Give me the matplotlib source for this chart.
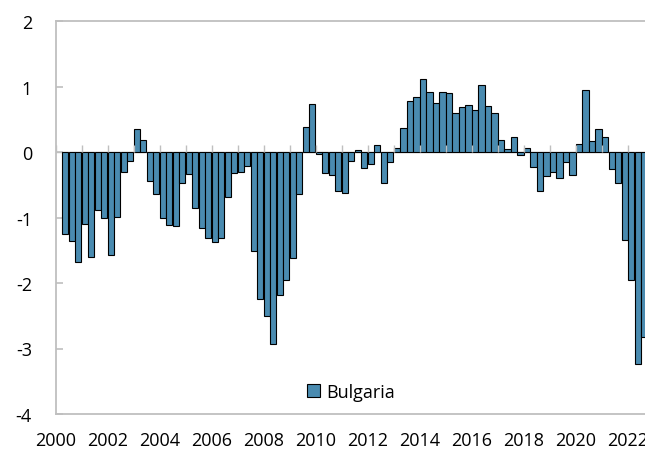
import numpy as np
import matplotlib
matplotlib.use("Agg")
import matplotlib.pyplot as plt

plt.rcParams['font.family'] = ['Open Sans', 'DejaVu Sans']

# quarterly values, 2000Q2 .. 2022Q3
START_YEAR = 2000
START_Q = 2
values = [
    -1.25, -1.36, -1.68,                 # 2000 Q2-Q4
    -1.10, -1.61, -0.89, -1.00,          # 2001
    -1.57, -0.99, -0.30, -0.13,          # 2002
    0.35, 0.18, -0.44, -0.64,            # 2003
    -1.01, -1.12, -1.13, -0.47,          # 2004
    -0.34, -0.85, -1.16, -1.32,          # 2005
    -1.37, -1.31, -0.69, -0.32,          # 2006
    -0.31, -0.21, -1.51, -2.25,          # 2007
    -2.50, -2.93, -2.19, -1.96,          # 2008
    -1.62, -0.64, 0.38, 0.73,            # 2009
    -0.03, -0.32, -0.35, -0.59,          # 2010
    -0.62, -0.14, 0.035, -0.25,          # 2011
    -0.19, 0.11, -0.47, -0.15,           # 2012
    0.06, 0.37, 0.78, 0.84,              # 2013
    1.11, 0.92, 0.75, 0.91,              # 2014
    0.90, 0.60, 0.69, 0.71,              # 2015
    0.64, 1.02, 0.70, 0.60,              # 2016
    0.19, 0.05, 0.23, -0.04,             # 2017
    0.06, -0.23, -0.60, -0.36,           # 2018
    -0.31, -0.40, -0.16, -0.35,          # 2019
    0.12, 0.94, 0.17, 0.35,              # 2020
    0.23, -0.26, -0.47, -1.35,           # 2021
    -1.96, -3.24, -2.82,                 # 2022 Q1-Q3
]
SERIES = "Bulgaria"
YEAR_LABELS = list(range(2000, 2023, 2))
YEAR_TICKS = list(range(2000, 2023))
Y_TICKS = [-4, -3, -2, -1, 0, 1, 2]

BAR_COLOR = "#4A8BB0"
GRID_GRAY = "#BFBFBF"
TICK_LEN = 0.11   # height of the small year ticks on the zero line (data units)

n = len(values)
qidx = np.arange(n) + (START_Q - 1)
x = START_YEAR + (qidx + 0.5) / 4.0

fig = plt.figure(figsize=(6.45, 4.52), dpi=100)
ax = fig.add_axes([55.5 / 645, 37 / 452, 1 - 55.5 / 645 + 0.002, 393 / 452])

ax.bar(x, values, width=0.235, color=BAR_COLOR, edgecolor="black",
       linewidth=0.8, label=SERIES, zorder=2)

# zero axis line with yearly tick marks pointing up
ax.axhline(0, color=GRID_GRAY, linewidth=1.0, zorder=1)
ax.vlines(YEAR_TICKS, 0, TICK_LEN, colors=GRID_GRAY, linewidth=1.0, zorder=3)

ax.set_xlim(2000, 2022.71)
ax.set_ylim(-4, 2)
ax.set_yticks(Y_TICKS)
ax.set_yticklabels([str(v) for v in Y_TICKS])
ax.set_xticks(YEAR_LABELS)
ax.set_xticklabels([str(v) for v in YEAR_LABELS])

for side in ["left", "top", "bottom"]:
    ax.spines[side].set_color(GRID_GRAY)
    ax.spines[side].set_linewidth(1.3)
ax.spines["right"].set_visible(False)

ax.tick_params(axis="y", direction="in", length=5, width=1.2, color=GRID_GRAY,
               labelsize=13, pad=17)
ax.tick_params(axis="x", length=0, labelsize=13, pad=12)

ax.legend(loc="center", bbox_to_anchor=(0.5, 0.056), frameon=False,
          fontsize=13, handlelength=0.7, handleheight=0.7, handletextpad=0.35)

fig.savefig("out.png", dpi=100)
